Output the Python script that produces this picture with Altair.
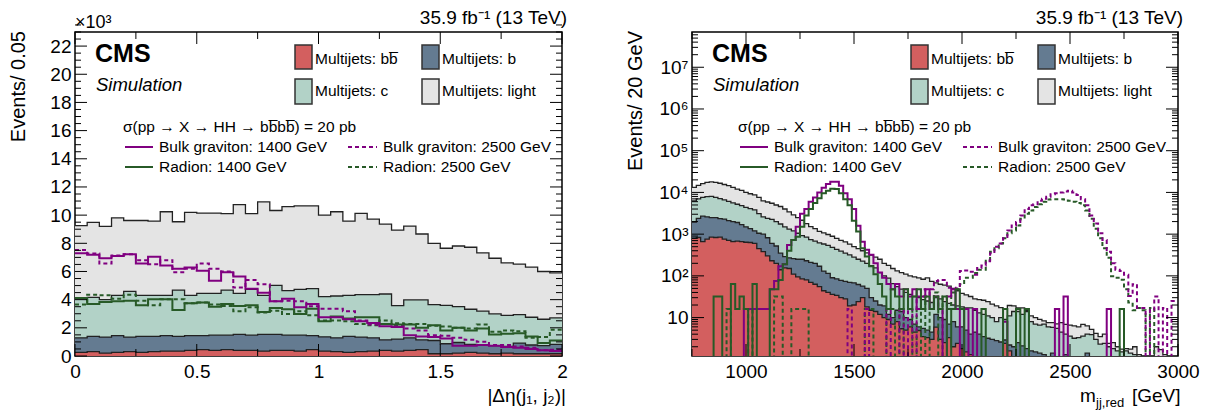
import numpy as np
import pandas as pd
import altair as alt

# ---------------- left panel: |Δη(j1,j2)|, 40 bins of 0.05, values in 10^3 events (stack tops) ----
deta_w = 0.05
L_light = [9.25, 9.48, 9.2, 9.81, 9.62, 9.62, 9.58, 10.24, 9.53, 10.19,
           10.14, 10.14, 10.1, 10.75, 10.1, 10.94, 10.33, 10.6, 10.66, 10.65,
           10.0, 10.24, 9.58, 10.12, 9.72, 9.36, 8.94, 9.22, 8.66, 8.0,
           7.65, 7.81, 7.72, 7.32, 6.94, 6.61, 6.52, 6.31, 6.0, 5.9]
L_c = [4.07, 4.16, 4.0, 4.31, 4.59, 4.31, 4.31, 4.31, 4.68, 4.31,
       4.45, 4.45, 4.68, 4.45, 4.73, 4.31, 5.01, 4.64, 4.73, 4.78,
       4.21, 4.26, 4.31, 4.35, 4.35, 4.4, 3.58, 3.98, 3.98, 3.65,
       3.6, 3.5, 3.32, 3.18, 2.99, 2.89, 2.94, 2.75, 2.61, 2.7]
L_b = [1.29, 1.39, 1.34, 1.44, 1.34, 1.39, 1.39, 1.44, 1.39, 1.44,
       1.44, 1.48, 1.48, 1.53, 1.48, 1.53, 1.53, 1.48, 1.48, 1.44,
       1.36, 1.29, 1.39, 1.34, 1.29, 1.15, 1.2, 1.29, 1.15, 1.1,
       0.87, 0.96, 0.82, 0.78, 0.73, 0.68, 0.92, 0.78, 0.73, 0.82]
L_bb = [0.26, 0.31, 0.21, 0.26, 0.31, 0.26, 0.31, 0.35, 0.35, 0.4,
        0.45, 0.4, 0.45, 0.4, 0.4, 0.35, 0.4, 0.4, 0.35, 0.45,
        0.35, 0.31, 0.26, 0.31, 0.35, 0.4, 0.35, 0.4, 0.45, 0.16,
        0.16, 0.21, 0.26, 0.21, 0.16, 0.21, 0.16, 0.16, 0.16, 0.16]
L_g1400 = [7.29, 7.18, 6.94, 7.1, 7.22, 6.56, 7.04, 6.42, 6.19, 6.28,
           6.05, 5.34, 5.95, 5.65, 4.78, 4.49, 3.88, 4.07, 3.46, 3.69,
           2.75, 2.75, 2.6, 2.47, 2.35, 2.12, 2.05, 1.48, 1.39, 1.34,
           1.25, 0.73, 0.73, 0.78, 0.73, 0.64, 0.59, 0.49, 0.4, 0.35]
L_g2500 = [7.53, 7.27, 6.56, 7.13, 7.22, 6.8, 6.52, 6.8, 5.95, 6.19,
           6.56, 6.19, 6.0, 4.87, 5.39, 5.1, 3.88, 3.93, 3.88, 3.53,
           3.36, 3.36, 3.18, 2.52, 2.24, 2.28, 2.2, 1.95, 1.81, 1.48,
           1.44, 1.29, 1.15, 1.01, 0.78, 0.78, 0.68, 0.59, 0.4, 0.45]
L_r1400 = [4.12, 3.69, 3.84, 3.88, 3.93, 3.6, 4.02, 4.02, 3.27, 3.74,
           3.79, 3.5, 3.69, 3.55, 3.6, 3.13, 3.41, 3.32, 2.99, 3.36,
           2.47, 2.8, 2.66, 2.75, 2.75, 2.28, 2.24, 2.24, 2.0, 2.19,
           1.81, 2.0, 1.81, 1.95, 1.53, 1.58, 1.62, 1.39, 0.92, 1.1]
L_r2500 = [3.65, 4.35, 4.31, 4.07, 4.35, 3.93, 3.6, 4.02, 4.02, 3.74,
           3.79, 3.65, 3.55, 3.18, 3.46, 3.08, 3.22, 2.99, 3.18, 2.89,
           2.52, 2.52, 2.47, 2.28, 2.19, 2.52, 2.33, 2.28, 2.28, 2.14,
           2.09, 2.0, 1.95, 2.24, 1.72, 1.81, 1.76, 1.29, 1.34, 1.86]

# ---------------- right panel: m_jj,red, 112 bins of 20 GeV from 750 GeV (stack tops) --------------
mjj_lo, mjj_w = 750, 20
R_light = [13200, 14800, 16200, 17400, 17800, 17400, 16600, 15500, 14500, 13200,
           12000, 11200, 10000, 9300, 8700, 7600, 6300, 5900, 5500, 5000,
           4600, 4000, 3400, 2900, 2500, 2150, 1780, 1510, 1350, 1170,
           1070, 980, 890, 790, 710, 650, 575, 500, 450, 400,
           355, 315, 280, 250, 200, 178, 150, 132, 120, 110,
           100, 95, 89, 83, 89, 74, 68, 63, 60, 57,
           50, 44, 38, 35, 32, 28, 27, 26, 24, 21,
           19, 17.4, 15.8, 19.5, 19, 17, 17, 14.8, 11, 10,
           9.1, 8.3, 7.6, 7.6, 7.1, 7.6, 6.9, 6.6, 6.3, 6.0,
           6.9, 6.3, 5.2, 4.2, 3.5, 4.0, 2.4, 2.5, 2.0, 1.75,
           1.8, 1.75, 2.0, 1.3, 1.1, 0, 0, 2.0, 1.7, 1.3,
           0, 0]
R_c = [6300, 7000, 7600, 7900, 8000, 7600, 7100, 6600, 6100, 5600,
       5200, 4800, 4400, 4100, 3800, 3100, 2600, 2400, 2250, 2000,
       1750, 1500, 1320, 1200, 1050, 920, 850, 740, 680, 620,
       580, 540, 480, 430, 390, 350, 320, 280, 250, 225,
       200, 175, 155, 120, 100, 88, 65, 55, 48, 40,
       36, 32, 30, 27, 25, 23, 30, 28, 24, 22,
       20, 19, 18, 17, 17, 15, 13, 12, 11, 10,
       8, 10, 9, 11, 14, 14, 12, 14, 8, 7,
       6.6, 7, 6, 5.8, 5.5, 4.5, 4, 3.6, 3.2, 3.3,
       3.6, 4, 3.9, 3.0, 2.3, 2.4, 2.0, 1.8, 1.6, 1.5,
       1.6, 1.4, 1.3, 1.1, 0, 0, 0, 0, 0, 0,
       0, 0]
R_b = [1950, 2400, 2700, 2600, 2500, 2500, 2350, 2300, 2100, 2000,
       1900, 1700, 1500, 1350, 1200, 1050, 1000, 820, 600, 520,
       350, 290, 270, 260, 250, 250, 230, 210, 200, 170,
       130, 115, 90, 85, 78, 74, 70, 68, 62, 57,
       50, 30, 25, 20, 19, 12, 10, 15, 14, 10,
       9, 7, 6, 5.5, 5, 4.5, 12, 10, 9, 7,
       8, 6, 6, 5, 4, 4.5, 4, 3.5, 3.2, 3,
       2.8, 2.6, 2.9, 2.2, 2, 2.5, 2.1, 1.8, 1.6, 1.5,
       1.4, 1.3, 0, 1.4, 0, 0, 1.3, 0, 0, 0,
       0, 1.4, 0, 0, 0, 0, 0, 0, 0, 0,
       0, 0, 0, 0, 0, 0, 0, 0, 0, 0,
       0, 0]
R_bb = [790, 830, 660, 760, 850, 830, 850, 760, 710, 660,
        680, 660, 640, 630, 600, 450, 380, 300, 230, 200,
        140, 155, 150, 110, 95, 85, 80, 70, 63, 55,
        44, 40, 36, 34, 30, 28, 19, 20, 24, 30,
        18, 15, 14, 12, 10, 9, 7, 8, 5.4, 5,
        6, 4.5, 4.9, 3.5, 3.3, 3.0, 5.9, 3, 2.5, 3.3,
        2, 2.4, 1.8, 1.5, 1.3, 0, 0, 0, 0, 0,
        0, 0, 2.4, 1.6, 0, 0, 0, 0, 0, 0,
        0, 0, 0, 0, 0, 0, 0, 0, 0, 0,
        0, 0, 0, 0, 0, 0, 0, 0, 0, 0,
        0, 0, 0, 0, 0, 0, 0, 0, 0, 0,
        0, 0]
R_g1400 = [0, 0, 0, 0, 0, 0, 0, 0, 0, 0,
           0, 0, 16, 16, 16, 16, 16, 16, 48, 75,
           170, 190, 550, 720, 1500, 3100, 4000, 6000, 7600, 10000,
           13000, 16000, 18000, 18000, 14500, 9500, 6900, 4000, 1600, 660,
           420, 320, 200, 120, 90, 64, 48, 64, 32, 48,
           32, 48, 16, 32, 48, 16, 32, 16, 0, 32,
           48, 16, 0, 16, 0, 16, 0, 0, 0, 0,
           0, 0, 8, 0, 0, 0, 0, 0, 0, 0,
           0, 0, 0, 0, 16, 0, 32, 0, 0, 0,
           0, 0, 0, 0, 0, 0, 16, 0, 0, 0,
           0, 0, 0, 0, 0, 0, 0, 0, 0, 0,
           0, 0]
R_r1400 = [0, 0, 0, 0, 0, 32, 32, 0, 0, 64,
           16, 32, 16, 0, 64, 0, 0, 0, 48, 48,
           80, 190, 400, 720, 870, 1500, 2800, 4000, 5600, 7200,
           9500, 11000, 12300, 12000, 9500, 6900, 4900, 2100, 1150, 460,
           290, 170, 110, 64, 32, 16, 48, 32, 16, 48,
           16, 32, 48, 16, 32, 16, 32, 16, 32, 0,
           16, 48, 16, 0, 0, 0, 0, 16, 0, 0,
           0, 0, 16, 0, 0, 16, 0, 16, 0, 0,
           0, 0, 0, 0, 0, 0, 0, 0, 0, 0,
           0, 0, 0, 0, 0, 0, 0, 0, 0, 16,
           0, 0, 0, 0, 0, 0, 0, 0, 0, 0,
           0, 0]
R_g2500 = [0, 0, 0, 0, 0, 0, 0, 0, 0, 0,
           0, 0, 0, 0, 0, 0, 0, 0, 0, 0,
           0, 0, 0, 0, 0, 0, 0, 0, 0, 0,
           0, 0, 0, 0, 0, 0, 16, 0, 0, 0,
           16, 0, 0, 0, 0, 16, 0, 0, 16, 0,
           16, 0, 32, 48, 32, 48, 75, 80, 80, 52,
           52, 50, 130, 135, 125, 107, 155, 178, 224, 347,
           500, 600, 800, 1230, 1620, 1950, 2800, 4000, 4900, 5200,
           6300, 7100, 7900, 9100, 9500, 10000, 10500, 11000, 10000, 8700,
           6900, 4900, 2800, 1800, 1050, 720, 380, 200, 140, 130,
           107, 33, 63, 17, 17, 0, 15, 32, 0, 17,
           0, 25]
R_r2500 = [0, 0, 0, 0, 0, 0, 0, 0, 16, 0,
           0, 0, 0, 16, 0, 0, 0, 0, 0, 32,
           32, 0, 0, 16, 16, 16, 16, 0, 0, 0,
           0, 0, 0, 0, 0, 0, 0, 0, 0, 0,
           16, 16, 0, 0, 0, 16, 16, 0, 16, 0,
           0, 16, 0, 32, 0, 16, 40, 0, 32, 16,
           40, 48, 63, 90, 90, 117, 141, 141, 245, 380,
           457, 600, 800, 1050, 1230, 1620, 2350, 3100, 3700, 4500,
           5200, 6000, 6800, 6900, 6900, 6900, 6800, 6300, 6000, 5600,
           4900, 3700, 2350, 1350, 800, 457, 270, 98, 90, 81,
           48, 23, 15, 17, 15, 0, 17, 0, 0, 0,
           0, 0]

# ticks / labels
L_xlabels = [0, 0.5, 1, 1.5, 2]
L_xminor = [0.25, 0.75, 1.25, 1.75]
L_ymajor = list(range(0, 23, 2))
L_yminor = [v + 0.5 * k for v in range(0, 23, 2) for k in (1, 2, 3)]
R_xlabels = [1000, 1500, 2000, 2500, 3000]
R_xminor = [750, 1250, 1750, 2250, 2750]
R_ymajor = [10, 100, 1000, 10000, 100000, 1000000, 10000000]
R_yminor = [m * 10 ** e for e in range(0, 8) for m in range(2, 10) if 1.2 < m * 10 ** e < 7e7]

# ---------------- style -----------------
FONT = "Liberation Sans"
C_BB, C_B, C_C, C_L = "#d35f5f", "#647b91", "#b2d2c7", "#e4e4e4"
PURPLE, GREEN = "#800080", "#275a27"
W1, W2, H = 487, 486, 324
LEG = 15.5
AXSTYLE = dict(labelFontSize=19, labelFont=FONT, labelColor="black", ticks=False, domain=False,
               grid=False, labelFlush=False, labelOverlap=False, labelSeparation=0, title=None)


class Panel:
    def __init__(self, xs, ys, ax, ay, W):
        self.xs, self.ys, self.ax, self.ay, self.W = xs, ys, ax, ay, W

    def X(self, f):
        return alt.X(f, scale=self.xs, axis=self.ax)

    def Y(self, f):
        return alt.Y(f, scale=self.ys, axis=self.ay)

    def area(self, df, fill):
        return alt.Chart(df).mark_area(interpolate="step-after", fill=fill, clip=True).encode(
            x=self.X("x:Q"), y=self.Y("y:Q"), y2="b:Q")

    def line(self, df, color, width=1.3, dash=None):
        kw = dict(interpolate="step-after", color=color, strokeWidth=width, clip=True)
        if dash:
            kw["strokeDash"] = dash
        return alt.Chart(df).mark_line(**kw).encode(x=self.X("x:Q"), y=self.Y("y:Q"))

    def xticks(self, vals, ln):
        base = alt.Chart(pd.DataFrame({"x": vals})).mark_rule(color="black", strokeWidth=1)
        return [base.encode(x=self.X("x:Q"), y=alt.value(H), y2=alt.value(H - ln)),
                base.encode(x=self.X("x:Q"), y=alt.value(0), y2=alt.value(ln))]

    def yticks(self, vals, ln):
        base = alt.Chart(pd.DataFrame({"y": vals})).mark_rule(color="black", strokeWidth=1)
        return [base.encode(y=self.Y("y:Q"), x=alt.value(0), x2=alt.value(ln)),
                base.encode(y=self.Y("y:Q"), x=alt.value(self.W), x2=alt.value(self.W - ln))]


def steps(edges, vals, floor=0.0):
    v = np.asarray(vals, dtype=float)
    if floor > 0:
        v = np.where(v > 0, v, floor)
    return pd.DataFrame({"x": edges, "y": np.append(v, v[-1]), "b": floor})


def text(s, x, y, size=LEG, align="left", weight="normal", style="normal", angle=0):
    return alt.Chart(pd.DataFrame({"t": [s]})).mark_text(
        text=s, fontSize=size, align=align, baseline="middle", fontWeight=weight,
        fontStyle=style, angle=angle, color="black", font=FONT).encode(x=alt.value(x), y=alt.value(y))


def swatch(x0, x1, y0, y1, fill):
    return alt.Chart(pd.DataFrame({"a": [0]})).mark_rect(fill=fill, stroke="#333333", strokeWidth=1.5).encode(
        x=alt.value(x0), x2=alt.value(x1), y=alt.value(y0), y2=alt.value(y1))


def legline(x0, x1, y, color, dash=None):
    kw = dict(color=color, strokeWidth=2)
    if dash:
        kw["strokeDash"] = dash
    return alt.Chart(pd.DataFrame({"a": [0]})).mark_rule(**kw).encode(
        x=alt.value(x0), x2=alt.value(x1), y=alt.value(y))


def decorations(W, sx, lx, tx):
    bb = "b" + "b\u0305"
    return [
        text("CMS", 20, 22, size=25, weight="bold"),
        text("Simulation", 21, 53, size=18.5, style="italic"),
        text("35.9 fb\u207b\u00b9 (13 TeV)", W + 5, -14, size=19, align="right"),
        swatch(sx, sx + 17, 13, 37, C_BB), text("Multijets: " + bb, sx + 20, 27),
        swatch(sx + 127, sx + 144, 13, 37, C_B), text("Multijets: b", sx + 147, 27),
        swatch(sx, sx + 17, 47, 72, C_C), text("Multijets: c", sx + 20, 59),
        swatch(sx + 127, sx + 144, 47, 72, C_L), text("Multijets: light", sx + 147, 59),
        text("\u03c3(pp \u2192 X \u2192 HH \u2192 " + bb + bb + ") = 20 pb", tx, 95),
        legline(lx, lx + 28, 115, PURPLE), text("Bulk graviton: 1400 GeV", lx + 34, 115),
        legline(lx + 223, lx + 252, 115, PURPLE, [4, 3]), text("Bulk graviton: 2500 GeV", lx + 258, 115),
        legline(lx, lx + 28, 135, GREEN), text("Radion: 1400 GeV", lx + 34, 135),
        legline(lx + 223, lx + 252, 135, GREEN, [4, 3]), text("Radion: 2500 GeV", lx + 258, 135),
    ]


def build(P, edges, series, signals, floor):
    layers = []
    for vals, col in series:
        df = steps(edges, vals, floor)
        layers.append(P.area(df, col))
        layers.append(P.line(df, "#222222", 1.3))
    for vals, col, dash in signals:
        layers.append(P.line(steps(edges, vals, floor), col, 2, dash))
    return layers


# ---------------- left panel -----------------
ex_l = np.round(deta_w * np.arange(len(L_light) + 1), 4)
PL = Panel(alt.Scale(domain=[0, 2], nice=False, zero=False),
           alt.Scale(domain=[0, 23], nice=False, zero=False),
           alt.Axis(values=L_xlabels, format="~g", labelPadding=6, **AXSTYLE),
           alt.Axis(values=L_ymajor, labelPadding=4, **AXSTYLE), W1)
left_layers = build(PL, ex_l,
                    [(L_light, C_L), (L_c, C_C), (L_b, C_B), (L_bb, C_BB)],
                    [(L_r2500, GREEN, [4, 3]), (L_g2500, PURPLE, [4, 3]),
                     (L_r1400, GREEN, None), (L_g1400, PURPLE, None)], 0.0)
left_layers += PL.xticks(L_xlabels, 12) + PL.xticks(L_xminor, 7)
left_layers += PL.yticks(L_ymajor, 12) + PL.yticks(L_yminor, 6)
left_layers += decorations(W1, 220, 50, 48)
left_layers += [
    text("\u00d710\u00b3", 0, -9, size=18),
    text("Events/ 0.05", -56, -1, size=20, align="right", angle=270),
    text("|\u0394\u03b7(j\u2081, j\u2082)|", W1 + 4, 364, size=19, align="right"),
]
left = alt.layer(*left_layers).properties(width=W1, height=H)

# ---------------- right panel -----------------
ex_r = mjj_lo + mjj_w * np.arange(len(R_light) + 1)
sup = "['', '', '\u00b2', '\u00b3', '\u2074', '\u2075', '\u2076', '\u2077']"
PR = Panel(alt.Scale(domain=[750, 3000], nice=False, zero=False),
           alt.Scale(type="log", domain=[1.2, 7e7], nice=False),
           alt.Axis(values=R_xlabels, format="d", labelPadding=6, **AXSTYLE),
           alt.Axis(values=R_ymajor, labelPadding=4,
                    labelExpr="datum.value < 50 ? '10' : '10' + " + sup + "[round(log(datum.value) / LN10)]",
                    **AXSTYLE), W2)
right_layers = build(PR, ex_r,
                     [(R_light, C_L), (R_c, C_C), (R_b, C_B), (R_bb, C_BB)],
                     [(R_r2500, GREEN, [4, 3]), (R_g2500, PURPLE, [4, 3]),
                      (R_g1400, PURPLE, None), (R_r1400, GREEN, None)], 0.01)
right_layers += PR.xticks(R_xlabels, 12) + PR.xticks(R_xminor, 7)
right_layers += PR.yticks(R_ymajor, 12) + PR.yticks(R_yminor, 6)
right_layers += decorations(W2, 219, 48, 46)
right_layers += [
    text("Events/ 20 GeV", -56, -1, size=20, align="right", angle=270),
    text("m", 388, 364, size=19),
    text("jj,red", 404, 371, size=13),
    text("[GeV]", 440, 364, size=19),
]
right = alt.layer(*right_layers).properties(width=W2, height=H)

chart = alt.hconcat(left, right, spacing=130, bounds="flush").properties(
    padding={"left": 0, "top": 0, "right": 5, "bottom": 5}
).configure(font=FONT).configure_view(stroke="black", strokeWidth=1.5).configure_axis(
    labelOverlap=False, labelSeparation=0)

chart.save("out.html", embed_options={"renderer": "svg", "actions": False})
